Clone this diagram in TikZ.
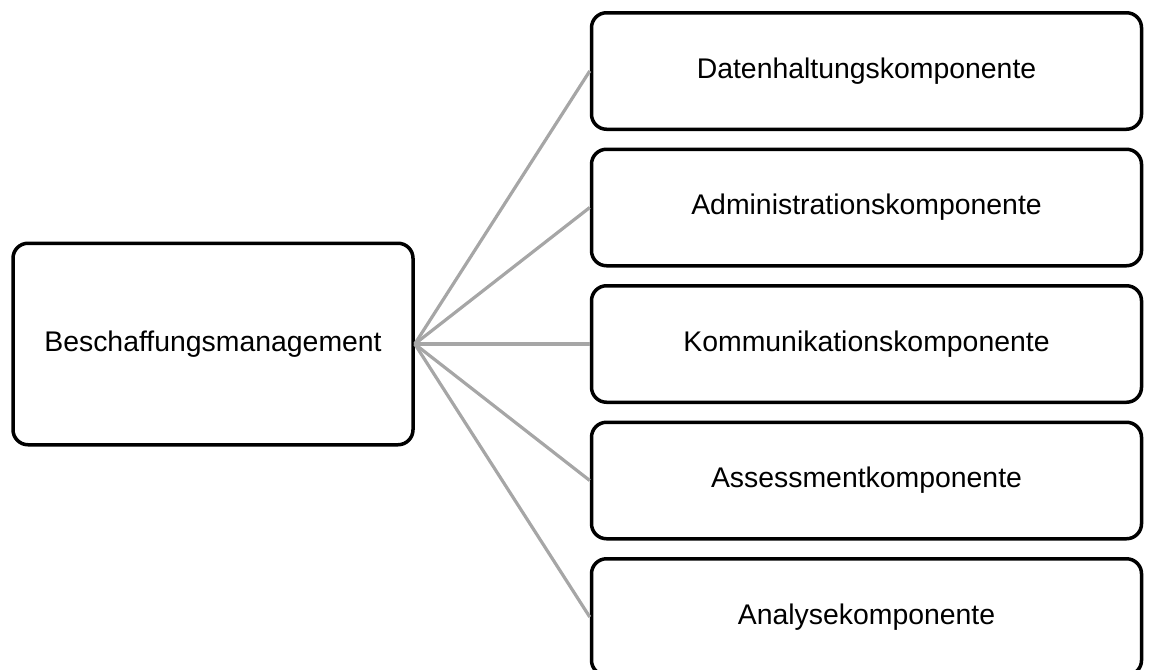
\documentclass[tikz,border=0pt]{standalone}
\usepackage{fontspec}
\setmainfont{Liberation Sans}
\usetikzlibrary{positioning}
\definecolor{linegray}{HTML}{A6A6A6}

\begin{document}
\begin{tikzpicture}[
main/.style={rectangle, rounded corners=7.5pt, draw=black, line width=1.75pt, fill=white, minimum width=200pt, minimum height=100.75pt, font=\fontsize{14.2}{17}\selectfont},
component/.style={rectangle, rounded corners=7.5pt, draw=black, line width=1.75pt, fill=white, minimum width=275pt, minimum height=58.25pt, font=\fontsize{14.2}{17}\selectfont},
link/.style={draw=linegray, line width=1.6pt},
node distance=8.25pt
]
\useasboundingbox (0,0) rectangle (574.5pt,-334.5pt);

\node[main](beschaffung) at (106.5pt,-172pt){Beschaffungsmanagement};

\node[component](datenhaltung) at (433.25pt,-35.5pt){Datenhaltungskomponente};
\node[component](administration)[below=of datenhaltung]{Administrationskomponente};
\node[component](kommunikation)[below=of administration]{Kommunikationskomponente};
\node[component](assessment)[below=of kommunikation]{Assessmentkomponente};
\node[component](analyse)[below=of assessment]{Analysekomponente};

\draw[link] (beschaffung.east) -- (datenhaltung.west);
\draw[link] (beschaffung.east) -- (administration.west);
\draw[link] (beschaffung.east) -- (kommunikation.west);
\draw[link] (beschaffung.east) -- (assessment.west);
\draw[link] (beschaffung.east) -- (analyse.west);
\end{tikzpicture}
\end{document}
